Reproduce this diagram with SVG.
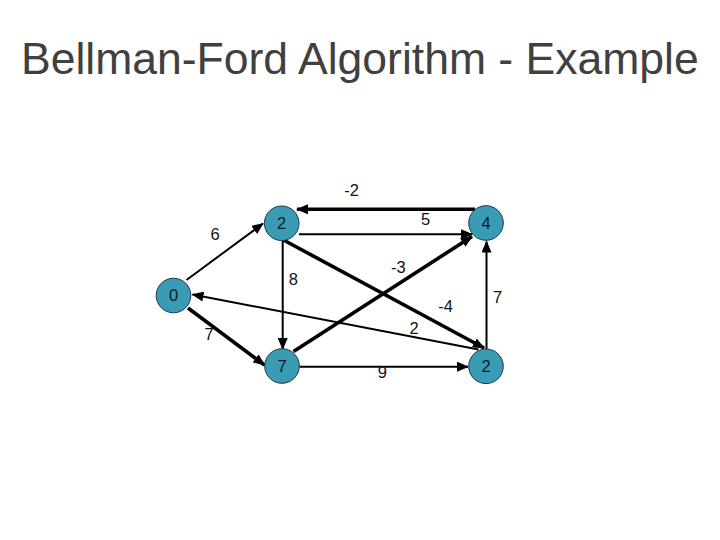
<svg xmlns="http://www.w3.org/2000/svg" width="720" height="540" viewBox="0 0 720 540">
<style>
.title{font-family:"Liberation Sans",Arial,sans-serif;font-size:44.5px;fill:#404040}
.node circle{fill:#3a9bb5;stroke:#1a3a48;stroke-width:1}
.node text{font-family:"Liberation Sans",Arial,sans-serif;font-size:16.5px;fill:#0c1a2c;text-anchor:middle}
.edge{stroke:#000;fill:none}
.thin{stroke-width:2}
.thick{stroke-width:3.6}
.lbl{font-family:"Liberation Sans",Arial,sans-serif;font-size:16.5px;fill:#111;text-anchor:middle}
</style>
<defs>
<marker id="ah" markerUnits="userSpaceOnUse" markerWidth="12" markerHeight="10" refX="11" refY="5" orient="auto">
<path d="M0,0 L12,5 L0,10 z" fill="#000"/>
</marker>
</defs>
<rect width="720" height="540" fill="#fff"/>
<text class="title" x="21" y="74">Bellman-Ford Algorithm - Example</text>
<g id="connectors">
<line class="edge thick" x1="475" y1="209.3" x2="297" y2="209.3" marker-end="url(#ah)"/>
<line class="edge thin" x1="299" y1="234.3" x2="472" y2="234.3" marker-end="url(#ah)"/>
<line class="edge thin" x1="186.5" y1="280" x2="263" y2="223.5" marker-end="url(#ah)"/>
<line class="edge thin" x1="282.7" y1="240.5" x2="282.7" y2="349" marker-end="url(#ah)"/>
<line class="edge thick" x1="283.5" y1="240" x2="484" y2="348" marker-end="url(#ah)"/>
<line class="edge thick" x1="293.5" y1="351.5" x2="472" y2="236.5" marker-end="url(#ah)"/>
<line class="edge thin" x1="478.5" y1="349.5" x2="192.5" y2="294.5" marker-end="url(#ah)"/>
<line class="edge thin" x1="486.5" y1="349" x2="486.5" y2="241.5" marker-end="url(#ah)"/>
<line class="edge thick" x1="188" y1="308" x2="264.5" y2="365" marker-end="url(#ah)"/>
<line class="edge thin" x1="299.5" y1="366.7" x2="468" y2="366.7" marker-end="url(#ah)"/>
<text class="lbl" x="351.7" y="195.5">-2</text>
<text class="lbl" x="215" y="240">6</text>
<text class="lbl" x="425.7" y="225">5</text>
<text class="lbl" x="293.3" y="285">8</text>
<text class="lbl" x="398.3" y="272.5">-3</text>
<text class="lbl" x="445.7" y="311.5">-4</text>
<text class="lbl" x="497.7" y="302.5">7</text>
<text class="lbl" x="414" y="333.5">2</text>
<text class="lbl" x="209" y="340">7</text>
<text class="lbl" x="382.3" y="377.5">9</text>
</g>
<g id="n_a" class="node"><circle cx="281.7" cy="223.3" r="17.3"/><text x="281.7" y="229.2">2</text></g>
<g id="n_b" class="node"><circle cx="486" cy="223" r="17.3"/><text x="486" y="228.9">4</text></g>
<g id="n_s" class="node"><circle cx="173.5" cy="295.5" r="17.3"/><text x="173.5" y="301.4">0</text></g>
<g id="n_c" class="node"><circle cx="282" cy="366" r="17.3"/><text x="282" y="371.9">7</text></g>
<g id="n_d" class="node"><circle cx="486" cy="366.3" r="17.3"/><text x="486" y="372.2">2</text></g>
</svg>
